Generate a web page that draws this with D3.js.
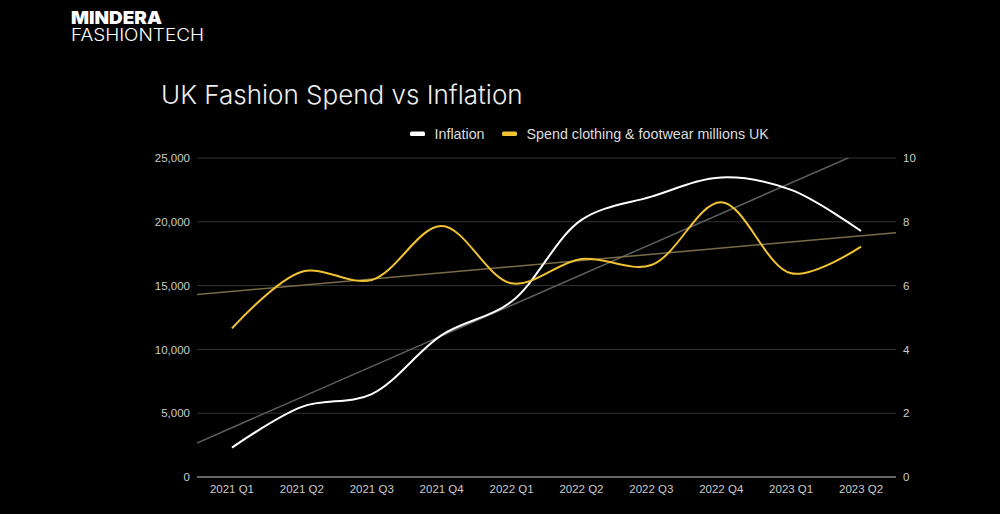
<!DOCTYPE html>
<html><head><meta charset="utf-8">
<script src="https://cdn.jsdelivr.net/npm/d3@7/dist/d3.min.js"></script>
<style>html,body{margin:0;padding:0;background:#000;}svg{display:block;}</style>
</head><body>
<svg id="c" width="1000" height="514"></svg>
<script>
const categories = ["2021 Q1","2021 Q2","2021 Q3","2021 Q4","2022 Q1","2022 Q2","2022 Q3","2022 Q4","2023 Q1","2023 Q2"];
const inflation = [0.92, 2.2, 2.6, 4.45, 5.5, 8.06, 8.79, 9.39, 9.0, 7.71];
const spend = [11650, 16090, 15440, 19670, 15180, 17085, 16610, 21530, 15960, 18050];
const leftTicks = [0, 5000, 10000, 15000, 20000, 25000];
const rightTicks = [0, 2, 4, 6, 8, 10];

const svg = d3.select("#c");
const L = 197, R = 896, T = 158, B = 477;
const font = "'Liberation Sans', Arial, sans-serif";

const x = d3.scaleBand().domain(categories).range([L, R]);
const yL = d3.scaleLinear().domain([0, 25000]).range([B, T]);
const yR = d3.scaleLinear().domain([0, 10]).range([B, T]);
const cx = d => x(d) + x.bandwidth() / 2;

// logo
svg.append("text").attr("x", 71).attr("y", 24).attr("fill", "#fff")
  .style("font-family", "Inter, 'Noto Sans', sans-serif").style("font-weight", 900).style("font-size", "18px")
  .attr("textLength", 91).attr("lengthAdjust", "spacingAndGlyphs")
  .text("MINDERA");
svg.append("text").attr("x", 71).attr("y", 41).attr("fill", "#fff")
  .style("font-family", "Inter, 'Noto Sans', sans-serif").style("font-weight", 300).style("font-size", "17px")
  .attr("textLength", 133).attr("lengthAdjust", "spacingAndGlyphs")
  .text("FASHIONTECH");

// title
svg.append("text").attr("x", 161).attr("y", 104).attr("fill", "#eee")
  .style("font-family", "Inter, 'Noto Sans', sans-serif").style("font-weight", 300).style("font-size", "26px")
  .text("UK Fashion Spend vs Inflation");

// grid
const g = svg.append("g");
g.selectAll("line.grid").data(leftTicks.filter(d => d > 0)).enter().append("line")
  .attr("x1", L).attr("x2", R).attr("y1", d => yL(d)).attr("y2", d => yL(d))
  .attr("stroke", "#333").attr("stroke-width", 1);

// left axis
const axL = d3.axisLeft(yL).tickValues(leftTicks).tickSize(0).tickPadding(7).tickFormat(d3.format(","));
const gl = svg.append("g").attr("transform", `translate(${L},0)`).call(axL);
gl.select(".domain").remove();
gl.selectAll("text").attr("fill", "#ccc").style("font-family", font).style("font-size", "11.5px");

// right axis
const axR = d3.axisRight(yR).tickValues(rightTicks).tickSize(0).tickPadding(7);
const gr = svg.append("g").attr("transform", `translate(${R},0)`).call(axR);
gr.select(".domain").remove();
gr.selectAll("text").attr("fill", "#ccc").style("font-family", font).style("font-size", "11.5px");

// x axis
const axX = d3.axisBottom(x).tickSize(0).tickPadding(8);
const gx = svg.append("g").attr("transform", `translate(0,${B})`).call(axX);
gx.select(".domain").remove();
gx.selectAll("text").attr("fill", "#ccc").style("font-family", font).style("font-size", "11.5px");
svg.append("line").attr("x1", L).attr("x2", R).attr("y1", B).attr("y2", B).attr("stroke", "#ccc").attr("stroke-width", 1);

// clip
svg.append("clipPath").attr("id", "plot").append("rect").attr("x", L).attr("y", T).attr("width", R - L).attr("height", B - T);

// trendlines (least squares on the data)
function fit(vals) {
  const n = vals.length, mx = (n - 1) / 2, my = d3.mean(vals);
  let num = 0, den = 0;
  vals.forEach((v, i) => { num += (i - mx) * (v - my); den += (i - mx) * (i - mx); });
  const s = num / den;
  return i => my + s * (i - mx);
}
const fS = fit(spend), fI = fit(inflation);
const tg = svg.append("g").attr("clip-path", "url(#plot)");
tg.append("line").attr("x1", L).attr("x2", R).attr("y1", yR(fI(-0.5))).attr("y2", yR(fI(categories.length - 0.5)))
  .attr("stroke", "#5e5e5e").attr("stroke-width", 1.5);
tg.append("line").attr("x1", L).attr("x2", R).attr("y1", yL(fS(-0.5))).attr("y2", yL(fS(categories.length - 0.5)))
  .attr("stroke", "#7a6b48").attr("stroke-width", 1.5);

// series
const curve = d3.curveCatmullRom.alpha(0.5);
svg.append("path").datum(inflation)
  .attr("d", d3.line().x((d, i) => cx(categories[i])).y(d => yR(d)).curve(curve))
  .attr("fill", "none").attr("stroke", "#fff").attr("stroke-width", 2);
svg.append("path").datum(spend)
  .attr("d", d3.line().x((d, i) => cx(categories[i])).y(d => yL(d)).curve(curve))
  .attr("fill", "none").attr("stroke", "#f1c232").attr("stroke-width", 2);

// legend
const leg = svg.append("g");
const items = [{name: "Inflation", color: "#fff", x: 410}, {name: "Spend clothing & footwear millions UK", color: "#f1c232", x: 502}];
items.forEach(it => {
  leg.append("rect").attr("x", it.x).attr("y", 131.5).attr("width", 15).attr("height", 4.5).attr("rx", 1.5).attr("fill", it.color);
  leg.append("text").attr("x", it.x + 24.5).attr("y", 138.5).attr("fill", "#ddd")
    .style("font-family", font).style("font-size", "14.3px").text(it.name);
});
</script>
</body></html>
